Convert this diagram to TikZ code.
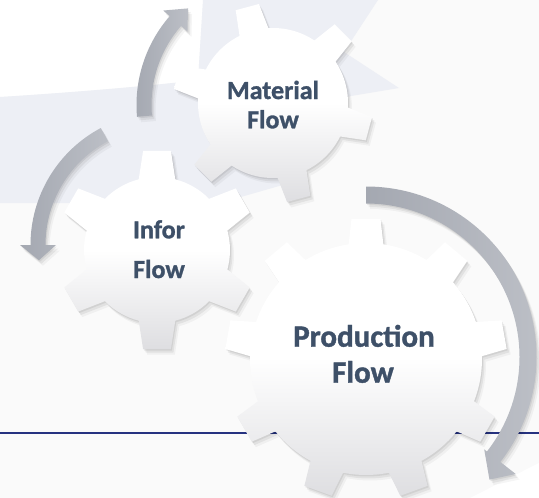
\documentclass[tikz,border=0pt]{standalone}
\usepackage{fontspec}
\setmainfont{Carlito}[BoldFeatures={FakeBold=1.2}]
\usetikzlibrary{calc}
\definecolor{txt}{RGB}{62,80,104}
\definecolor{lav}{RGB}{237,239,245}
\definecolor{bg}{RGB}{250,250,250}
\definecolor{arr}{RGB}{164,168,177}
\definecolor{arrlight}{RGB}{188,191,198}
\definecolor{lineblue}{RGB}{38,50,128}
\definecolor{gearlow}{RGB}{222,222,225}
\tikzset{
  softshadow/.style={
    preaction={fill=black, fill opacity=0.07, transform canvas={xshift=1pt,yshift=-1.5pt}},
    preaction={fill=black, fill opacity=0.06, transform canvas={xshift=2.5pt,yshift=-3.5pt}},
    preaction={fill=black, fill opacity=0.04, transform canvas={xshift=4pt,yshift=-5.5pt}}},
  gearbody/.style={softshadow, top color=white, bottom color=gearlow, middle color=white},
  arrowbody/.style={softshadow, left color=arr, right color=arrlight},
  label26/.style={text=txt, anchor=base, inner sep=0pt, font=\fontsize{26}{30}\selectfont\bfseries},
  label31/.style={text=txt, anchor=base, inner sep=0pt, font=\fontsize{31}{36}\selectfont\bfseries}
}
% name, cx, cy, Rb, Rt, n, start, dB, dT
\newcommand{\drawgear}[9]{%
  \pgfmathsetmacro{\gstep}{360/#6}%
  \pgfmathtruncatemacro{\glast}{#6-1}%
  \begin{scope}[shift={(#2,-#3)}]
    \path[gearbody] ({#7-#8}:#4)
      \foreach \k in {0,...,\glast} {
        -- ({#7+\k*\gstep-#9}:#5) -- ({#7+\k*\gstep+#9}:#5) -- ({#7+\k*\gstep+#8}:#4)
        arc[start angle={#7+\k*\gstep+#8}, end angle={#7+(\k+1)*\gstep-#8}, radius=#4]
      } -- cycle;
    \coordinate (#1) at (0,0);
  \end{scope}%
}
\begin{document}
\begin{tikzpicture}[x=1pt,y=1pt]
\useasboundingbox (0,0) rectangle (539,-498);
% background
\fill[bg] (0,0) rectangle (539,-498);
\fill[white] (0,0) -- (203,0) -- (198,-80) .. controls (160,-85) and (80,-92) .. (0,-97) -- cycle;
\fill[lav] (0,-97) .. controls (80,-92) and (160,-85) .. (198,-80) -- (203,0) -- (378,0) -- (344,-52) -- (399,-88) -- (345,-97) -- (300,-180) -- (220,-203) -- (0,-203) -- cycle;
\fill[white] (470,-498) -- (539,-463) -- (539,-498) -- cycle;
% blue line
\coordinate (L1) at (0,-433);
\coordinate (L2) at (539,-433);
\draw[lineblue, line width=2.2pt] (L1) -- (L2);
% top arrow (around Material gear)
\begin{scope}[shift={(272,-105)}]
  \path[arrowbody] (185:135.5) arc[start angle=185, end angle=139, radius=135.5]
    -- (139:144) -- (131:128) -- (139:112) -- (139:120.5)
    arc[start angle=139, end angle=185, radius=120.5] -- cycle;
\end{scope}
% left arrow (around Infor gear)
\begin{scope}[shift={(163,-245)}]
  \path[arrowbody] (118:132.5) arc[start angle=118, end angle=180, radius=132.5]
    -- (180:143) -- (187:125) -- (180:107) -- (180:117.5)
    arc[start angle=180, end angle=118, radius=117.5] -- cycle;
\end{scope}
% big arrow (around Production gear)
\begin{scope}[shift={(366,-357)}]
  \path[arrowbody] (90:170.5) arc[start angle=90, end angle=-38, radius=170.5]
    -- (-38:190) -- (-44.8:174) -- (-38:150) -- (-38:153.5)
    arc[start angle=-38, end angle=90, radius=153.5] -- cycle;
\end{scope}
% gears
\drawgear{gmat}{273}{103}{75}{100}{6}{45}{11.5}{6.9}
\drawgear{ginf}{157}{250}{73}{100}{6}{90}{14.5}{8}
\drawgear{gpro}{366}{359}{116}{141}{9}{90}{8.6}{5.9}
% labels
\node[label26] (mat1) at (273,-99) {Material};
\node[label26] (mat2) at (273,-128.3) {Flow};
\node[label26] (inf1) at (159,-238.3) {Infor};
\node[label26] (inf2) at (159,-278) {Flow};
\node[label31] (pro1) at (364,-346.7) {Production};
\node[label31] (pro2) at (363,-382.7) {Flow};
\end{tikzpicture}
\end{document}
